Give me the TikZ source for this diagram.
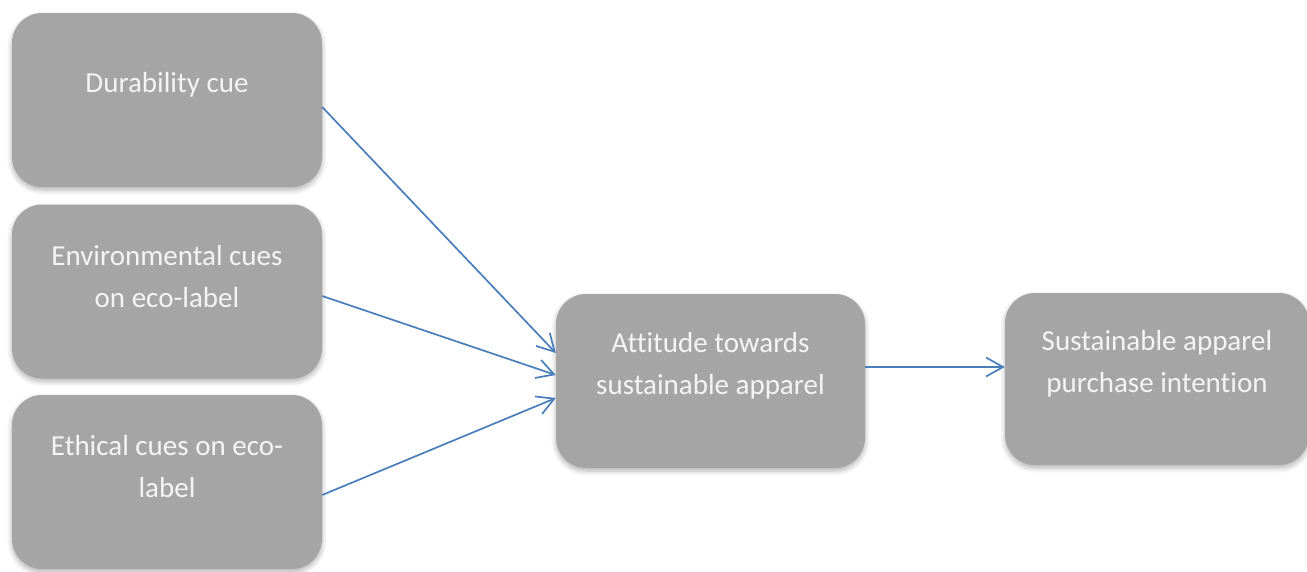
\documentclass[tikz,border=0pt]{standalone}
\usepackage{fontspec}
\setmainfont[Ligatures={NoCommon}]{Carlito}
\usetikzlibrary{arrows.meta,shadows.blur,positioning}
\definecolor{boxgrey}{HTML}{A5A5A5}
\definecolor{boxtext}{HTML}{F4F4F4}
\definecolor{linkblue}{HTML}{4A7EBB}
\tikzset{
  cuebox/.style={rectangle, rounded corners=30pt, fill=boxgrey, draw=none,
    minimum width=310pt, minimum height=174pt, inner sep=0pt,
    blur shadow={shadow xshift=0pt, shadow yshift=-3pt, shadow blur steps=6,
      shadow blur radius=5pt, shadow opacity=30}},
  boxlabel/.style={text=boxtext, align=center,
    font=\fontsize{29}{42}\selectfont, yshift=15pt},
  link/.style={draw=linkblue, line width=1.7pt,
    -{Straight Barb[length=17pt,width=19pt,line width=1.7pt]}}
}
\begin{document}
\begin{tikzpicture}[x=1pt,y=-1pt]
  \useasboundingbox (0,0) rectangle (1307,571);

  % input cues
  \node[cuebox, label={[boxlabel]center:Durability cue}] (dur) at (167,100) {};
  \node[cuebox, label={[boxlabel]center:Environmental cues\\on eco-label}] (env) at (167,291.5) {};
  \node[cuebox, label={[boxlabel]center:Ethical cues on eco-\\label}] (eth) at (167,482) {};

  % mediator and outcome
  \node[cuebox, minimum width=309pt, label={[boxlabel]center:Attitude towards\\sustainable apparel}] (att) at (710.5,381) {};
  \node[cuebox, minimum width=304pt, minimum height=172pt, label={[boxlabel]center:Sustainable apparel\\purchase intention}] (pi) at (1157,379) {};

  % paths
  \draw[link] ([yshift=-7pt]dur.east) -- ([yshift=28pt]att.west);
  \draw[link] ([yshift=-4.5pt]env.east) -- ([yshift=6pt]att.west);
  \draw[link] ([yshift=-13pt]eth.east) -- ([yshift=-17pt]att.west);
  \draw[link] ([yshift=14pt]att.east) -- ([yshift=12pt]pi.west);
\end{tikzpicture}
\end{document}
